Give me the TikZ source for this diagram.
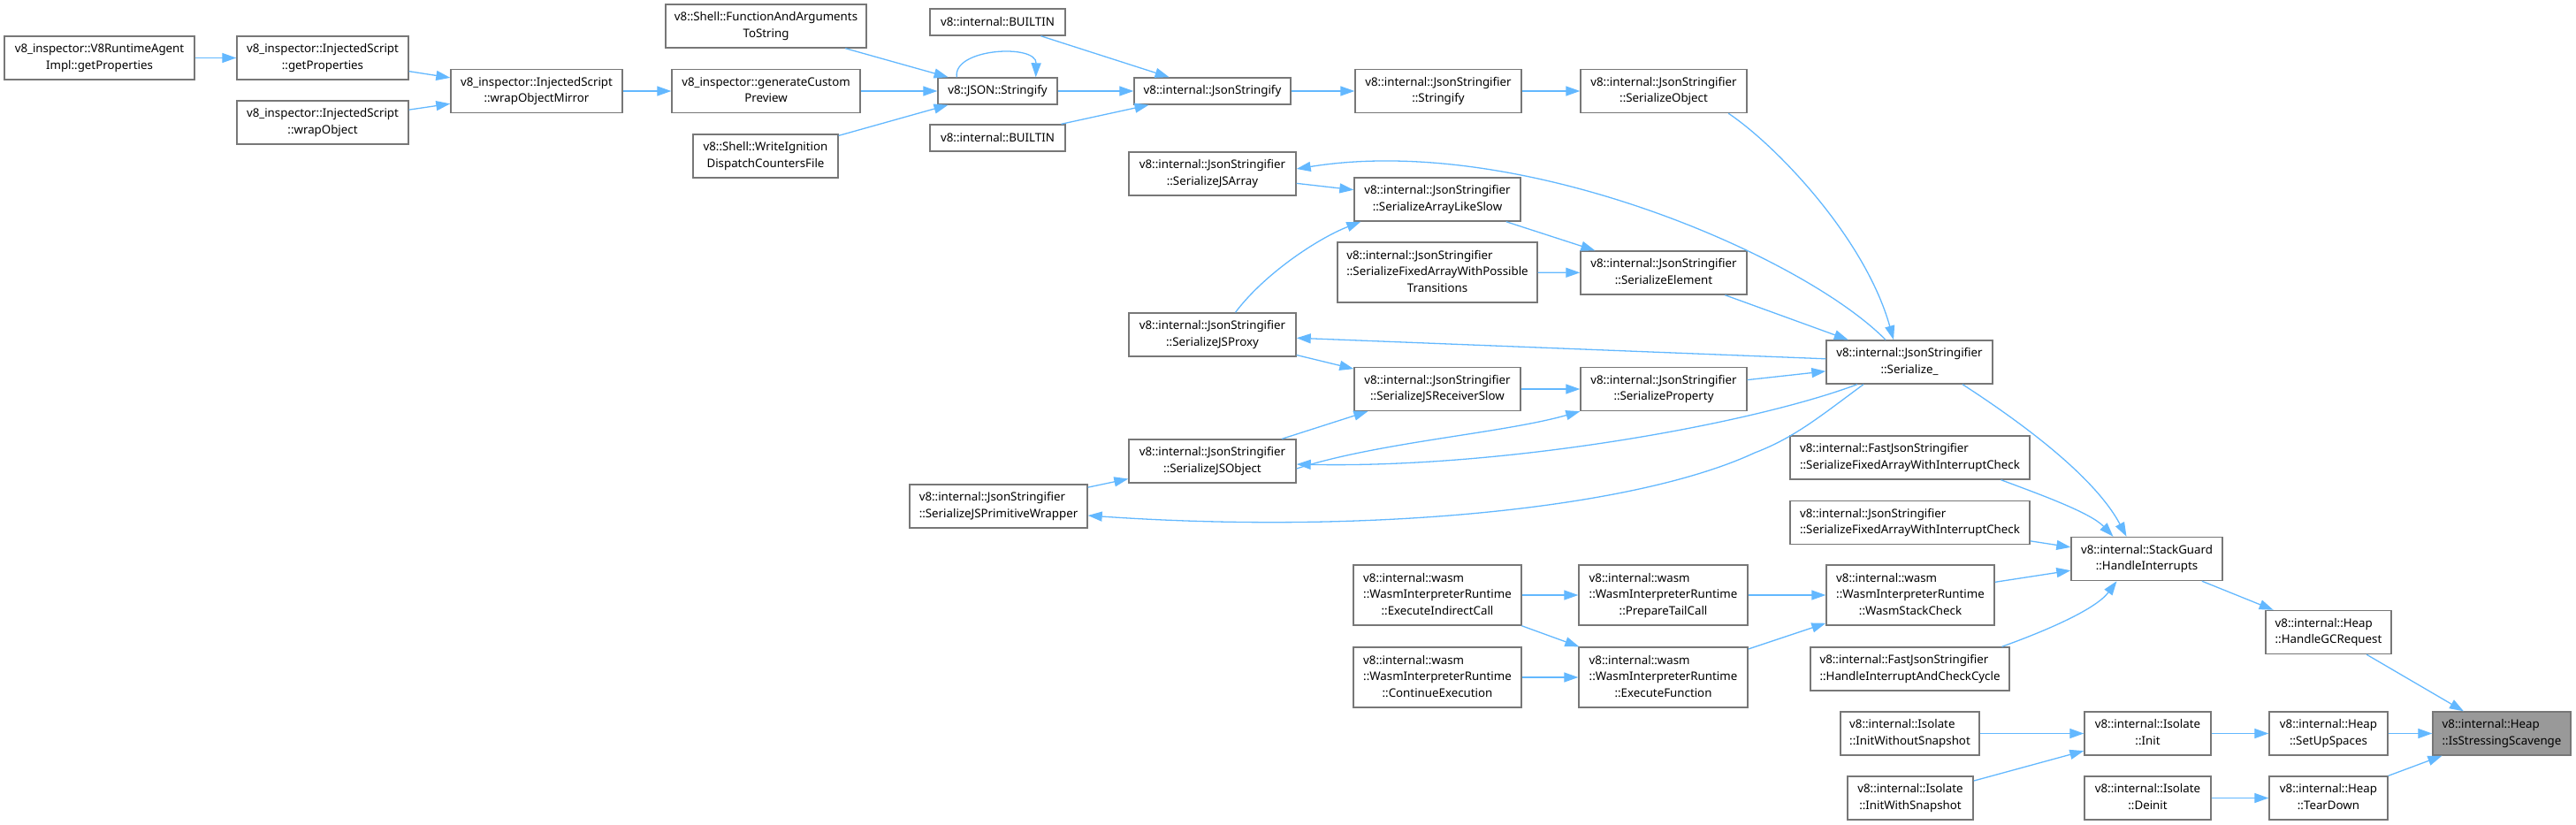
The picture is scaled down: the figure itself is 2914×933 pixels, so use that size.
\documentclass[tikz,border=0pt]{standalone}
\usepackage{fontspec}
\setmainfont{Noto Sans}
\usepackage{xcolor}
\usetikzlibrary{arrows.meta}
\definecolor{edgeblue}{HTML}{63B8FF}
\definecolor{boxgray}{HTML}{777777}
\definecolor{focusgray}{HTML}{999999}
% first line flush left, the others centred
\newcommand{\dlabel}[2]{\begin{tabular}{@{}c@{}}\multicolumn{1}{@{}l@{}}{#1}\\#2\end{tabular}}
\begin{document}
\begin{tikzpicture}[x=1pt,y=-1pt,
  every node/.style={font=\fontsize{13.3}{18.5}\selectfont},
  fn/.style={draw=boxgray,line width=1.4pt,fill=white,inner xsep=8pt,inner ysep=0pt,minimum height=49},
  fnone/.style={fn,minimum height=30},
  fnthree/.style={fn,minimum height=68},
  focus/.style={fn,fill=focusgray},
  call/.style={draw=edgeblue,line width=1.3pt,-{Triangle[length=16pt,width=11pt]}}]
  \useasboundingbox (0,0) rectangle (2914,933);
  % inspector side
  \node[fn,minimum width=215] (agent) at (112.5,65.5) {\dlabel{v8\_inspector::V8RuntimeAgent}{Impl::getProperties}};
  \node[fn,minimum width=194] (isgetprop) at (365,65.5) {\dlabel{v8\_inspector::InjectedScript}{::getProperties}};
  \node[fn,minimum width=194] (iswrapobj) at (365,138.5) {\dlabel{v8\_inspector::InjectedScript}{::wrapObject}};
  \node[fn,minimum width=194] (wrapmirror) at (607,103) {\dlabel{v8\_inspector::InjectedScript}{::wrapObjectMirror}};
  \node[fn,minimum width=213] (custompreview) at (866.5,103) {\dlabel{v8\_inspector::generateCustom}{Preview}};
  \node[fn,minimum width=227] (funcargs) at (866.5,29.5) {\dlabel{v8::Shell::FunctionAndArguments}{ToString}};
  \node[fn,minimum width=164] (writeign) at (866,176.5) {\dlabel{v8::Shell::WriteIgnition}{DispatchCountersFile}};
  % JSON entry points
  \node[fnone,minimum width=153] (builtina) at (1128.5,25) {v8::internal::BUILTIN};
  \node[fnone,minimum width=135] (jsonstr) at (1128.5,103) {v8::JSON::Stringify};
  \node[fnone,minimum width=153] (builtinb) at (1128.5,156) {v8::internal::BUILTIN};
  \node[fnone,minimum width=177] (intjsonstr) at (1371.5,103) {v8::internal::JsonStringify};
  \node[fn,minimum width=188] (stringify) at (1627,103) {\dlabel{v8::internal::JsonStringifier}{::Stringify}};
  \node[fn,minimum width=188] (serobj) at (1882,103) {\dlabel{v8::internal::JsonStringifier}{::SerializeObject}};
  % serializer
  \node[fn,minimum width=189] (serjsarray) at (1371.5,196.5) {\dlabel{v8::internal::JsonStringifier}{::SerializeJSArray}};
  \node[fn,minimum width=188] (serarrlike) at (1626,225.5) {\dlabel{v8::internal::JsonStringifier}{::SerializeArrayLikeSlow}};
  \node[fnthree,minimum width=226] (serfixpos) at (1626,308) {\dlabel{v8::internal::JsonStringifier}{::SerializeFixedArrayWithPossible\\Transitions}};
  \node[fn,minimum width=188] (serelem) at (1882,308.5) {\dlabel{v8::internal::JsonStringifier}{::SerializeElement}};
  \node[fn,minimum width=189] (serjsproxy) at (1371.5,378.5) {\dlabel{v8::internal::JsonStringifier}{::SerializeJSProxy}};
  \node[fn,minimum width=188] (serialize) at (2160,409.5) {\dlabel{v8::internal::JsonStringifier}{::Serialize\_}};
  \node[fn,minimum width=188] (serrecv) at (1626,440) {\dlabel{v8::internal::JsonStringifier}{::SerializeJSReceiverSlow}};
  \node[fn,minimum width=188] (serprop) at (1882,440) {\dlabel{v8::internal::JsonStringifier}{::SerializeProperty}};
  \node[fn,minimum width=189] (serjsobj) at (1371.5,521.5) {\dlabel{v8::internal::JsonStringifier}{::SerializeJSObject}};
  \node[fn,minimum width=201] (serprimwrap) at (1129.5,572.5) {\dlabel{v8::internal::JsonStringifier}{::SerializeJSPrimitiveWrapper}};
  \node[fn,minimum width=271] (fastsfawic) at (2160.5,517.5) {\dlabel{v8::internal::FastJsonStringifier}{::SerializeFixedArrayWithInterruptCheck}};
  \node[fn,minimum width=271] (jsfawic) at (2160.5,591) {\dlabel{v8::internal::JsonStringifier}{::SerializeFixedArrayWithInterruptCheck}};
  \node[fn,minimum width=171] (handleint) at (2428.5,632) {\dlabel{v8::internal::StackGuard}{::HandleInterrupts}};
  % wasm interpreter
  \node[fnthree,minimum width=190] (execind) at (1626,673) {\dlabel{v8::internal::wasm}{::WasmInterpreterRuntime\\::ExecuteIndirectCall}};
  \node[fnthree,minimum width=191] (preptail) at (1881.5,673) {\dlabel{v8::internal::wasm}{::WasmInterpreterRuntime\\::PrepareTailCall}};
  \node[fnthree,minimum width=190] (wasmcheck) at (2161,673) {\dlabel{v8::internal::wasm}{::WasmInterpreterRuntime\\::WasmStackCheck}};
  \node[fnthree,minimum width=190] (contexec) at (1626,766) {\dlabel{v8::internal::wasm}{::WasmInterpreterRuntime\\::ContinueExecution}};
  \node[fnthree,minimum width=191] (execfunc) at (1881.5,766) {\dlabel{v8::internal::wasm}{::WasmInterpreterRuntime\\::ExecuteFunction}};
  \node[fn,minimum width=225] (handlecycle) at (2160.5,756.5) {\dlabel{v8::internal::FastJsonStringifier}{::HandleInterruptAndCheckCycle}};
  % heap and isolate
  \node[fn,minimum width=142] (handlegc) at (2634,715) {\dlabel{v8::internal::Heap}{::HandleGCRequest}};
  \node[fn,minimum width=157] (initwo) at (2160.5,829.5) {\dlabel{v8::internal::Isolate}{::InitWithoutSnapshot}};
  \node[fn,minimum width=143] (isoinit) at (2429.5,829.5) {\dlabel{v8::internal::Isolate}{::Init}};
  \node[fn,minimum width=134] (setup) at (2634,829.5) {\dlabel{v8::internal::Heap}{::SetUpSpaces}};
  \node[focus,minimum width=156] (stress) at (2830,829.5) {\dlabel{v8::internal::Heap}{::IsStressingScavenge}};
  \node[fn,minimum width=142] (initws) at (2161,902.5) {\dlabel{v8::internal::Isolate}{::InitWithSnapshot}};
  \node[fn,minimum width=143] (deinit) at (2429.5,902.5) {\dlabel{v8::internal::Isolate}{::Deinit}};
  \node[fn,minimum width=134] (teardown) at (2634,902.5) {\dlabel{v8::internal::Heap}{::TearDown}};

  % calls into JSON::Stringify
  \draw[call] (agent) -- (isgetprop);
  \draw[call] (isgetprop) -- (wrapmirror);
  \draw[call] (iswrapobj) -- (wrapmirror);
  \draw[call] (wrapmirror) -- (custompreview);
  \draw[call] (custompreview) -- (jsonstr);
  \draw[call] (funcargs) -- (jsonstr);
  \draw[call] (writeign) -- (jsonstr);
  \draw[call] ([xshift=22]jsonstr.north west) .. controls +(-5,-33) and +(1,-38) .. ([xshift=-25]jsonstr.north east);
  \draw[call] (jsonstr) -- (intjsonstr);
  \draw[call] (builtina) -- (intjsonstr);
  \draw[call] (builtinb) -- (intjsonstr);
  \draw[call] (intjsonstr) -- (stringify);
  \draw[call] (stringify) -- (serobj);
  % serializer recursion
  \draw[call] (serobj.-19) .. controls (2010,165) and (2110,270) .. ([xshift=-18]serialize.north);
  \draw[call] ([xshift=-27]serialize.north) .. controls (2040,290) and (1720,150) .. ([yshift=5.5]serjsarray.east);
  \draw[call] (serjsarray) -- (serarrlike);
  \draw[call] (serarrlike) -- (serelem);
  \draw[call] (serfixpos) -- (serelem);
  \draw[call] (serelem) -- (serialize);
  \draw[call] ([xshift=26]serjsproxy.north) .. controls (1430,310) and (1490,270) .. ([xshift=8]serarrlike.south west);
  \draw[call] (serialize) -- (serjsproxy);
  \draw[call] (serjsproxy) -- (serrecv);
  \draw[call] (serrecv) -- (serprop);
  \draw[call] (serprop) -- (serialize);
  \draw[call] (serjsobj) -- (serrecv);
  \draw[call] ([yshift=-8.5]serjsobj.east) .. controls (1560,500) and (1700,490) .. (serprop.south west);
  \draw[call] ([xshift=-59]serialize.south) .. controls (1980,480) and (1700,530) .. ([yshift=-3.5]serjsobj.east);
  \draw[call] (serprimwrap) -- (serjsobj);
  \draw[call] ([xshift=-52]serialize.south) .. controls (2060,470) and (2030,495) .. (1985,512)
        .. controls (1850,575) and (1550,605) .. ([yshift=-10.5]serprimwrap.east);
  % interrupts
  \draw[call] ([xshift=60]serialize.south) .. controls (2290,480) and (2370,540) .. ([xshift=-23]handleint.north);
  \draw[call] ([xshift=103]fastsfawic.south) .. controls (2310,560) and (2365,580) .. ([xshift=-38]handleint.north);
  \draw[call] (jsfawic) -- (handleint);
  \draw[call] (wasmcheck) -- (handleint);
  \draw[call] ([xshift=104]handlecycle.north) .. controls (2310,715) and (2370,690) .. ([xshift=-34]handleint.south);
  \draw[call] (execind) -- (preptail);
  \draw[call] (execind) -- (execfunc);
  \draw[call] (contexec) -- (execfunc);
  \draw[call] (preptail) -- (wasmcheck);
  \draw[call] (execfunc) -- (wasmcheck);
  % heap
  \draw[call] (handleint) -- (handlegc);
  \draw[call] (handlegc) -- (stress);
  \draw[call] (initwo) -- (isoinit);
  \draw[call] (initws) -- (isoinit);
  \draw[call] (isoinit) -- (setup);
  \draw[call] (setup) -- (stress);
  \draw[call] (deinit) -- (teardown);
  \draw[call] (teardown) -- (stress);
\end{tikzpicture}
\end{document}
